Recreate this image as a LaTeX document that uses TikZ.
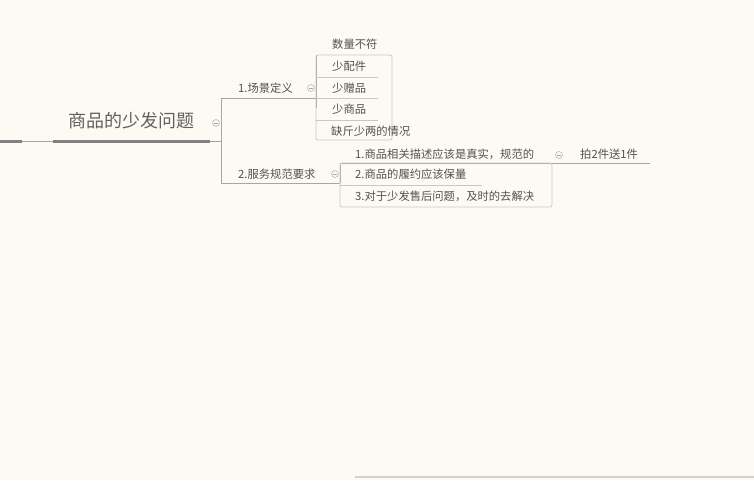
\documentclass[tikz,border=0pt]{standalone}
\usepackage{fontspec}
\setmainfont{Noto Sans CJK SC}
\begin{document}
\begin{tikzpicture}[x=1pt,y=-1pt,
  txt/.style={inner sep=0pt,anchor=west,text=black!68,font=\fontsize{11.3}{13}\selectfont},
  rootlbl/.style={inner sep=0pt,text=black!62,font=\fontsize{18}{21}\selectfont},
  ln/.style={draw=black!35,line width=0.8pt},
  boxl/.style={draw=black!22,line width=0.8pt,rounded corners=2pt},
  fold/.style={circle,draw=black!28,line width=0.6pt,minimum size=7pt,inner sep=0pt,
     path picture={\draw[black!35,line width=0.6pt] ([xshift=-2pt]path picture bounding box.center)--([xshift=2pt]path picture bounding box.center);}}]
\definecolor{bgc}{HTML}{FDFAF3}
\fill[bgc] (0,0) rectangle (754,480);
\useasboundingbox (0,0) rectangle (754,480);

% root
\node[rootlbl] (root) at (131,121) {商品的少发问题};
\coordinate (l0) at (0,141);
\coordinate (l1) at (22,141);
\coordinate (r0) at (53,141);
\coordinate (r1) at (210,141);
\coordinate (j) at (221,141);
\draw[black!50,line width=3pt] (l0)--(l1);
\draw[ln] (l1)--(r0);
\draw[black!50,line width=3pt] (r0)--(r1);
\draw[ln] (r1)--(j);
\node[fold] (f0) at (216,123) {};

% branch trunk
\coordinate (b1s) at (221,98);
\coordinate (b1e) at (316,98);
\coordinate (b2s) at (221,183);
\coordinate (b2e) at (340,183);
\draw[ln] (b1e)--(b1s)--(b2s)--(b2e);

\node[txt] (b1) at (238,88) {1.场景定义};
\node[fold] (f1) at (311,88) {};
\node[txt] (b2) at (238,174) {2.服务规范要求};
\node[fold] (f2) at (335,174) {};

% branch 1 children
\coordinate (v1t) at (316,55);
\coordinate (v1b) at (316,108);
\draw[ln] (v1t)--(v1b);
\draw[boxl] (316,55) rectangle (392,140);
\foreach \y in {77,98,120}{\draw[black!22,line width=0.8pt] (316,\y)--(378,\y);}
\node[txt] (c1) at (332,44) {数量不符};
\node[txt] (c2) at (332,66) {少配件};
\node[txt] (c3) at (332,88) {少赠品};
\node[txt] (c4) at (332,109) {少商品};
\node[txt] (c5) at (331,131) {缺斤少两的情况};

% branch 2 children
\coordinate (v2t) at (340,163);
\coordinate (v2b) at (340,183);
\draw[ln] (v2t)--(v2b);
\coordinate (u1e) at (650,163);
\draw[ln] (v2t)--(u1e);
\draw[boxl] (340,163) rectangle (552,207);
\draw[black!22,line width=0.8pt] (340,185)--(482,185);
\node[txt] (d1) at (355,154) {1.商品相关描述应该是真实，规范的};
\node[fold] (f3) at (559,155) {};
\node[txt] (d2) at (355,174) {2.商品的履约应该保量};
\node[txt] (d3) at (355,196) {3.对于少发售后问题，及时的去解决};
\node[txt] (e1) at (580,154) {拍2件送1件};

% bottom bar
\coordinate (bb0) at (355,477);
\coordinate (bb1) at (754,477);
\draw[black!18,line width=2pt] (bb0)--(bb1);
\end{tikzpicture}
\end{document}
